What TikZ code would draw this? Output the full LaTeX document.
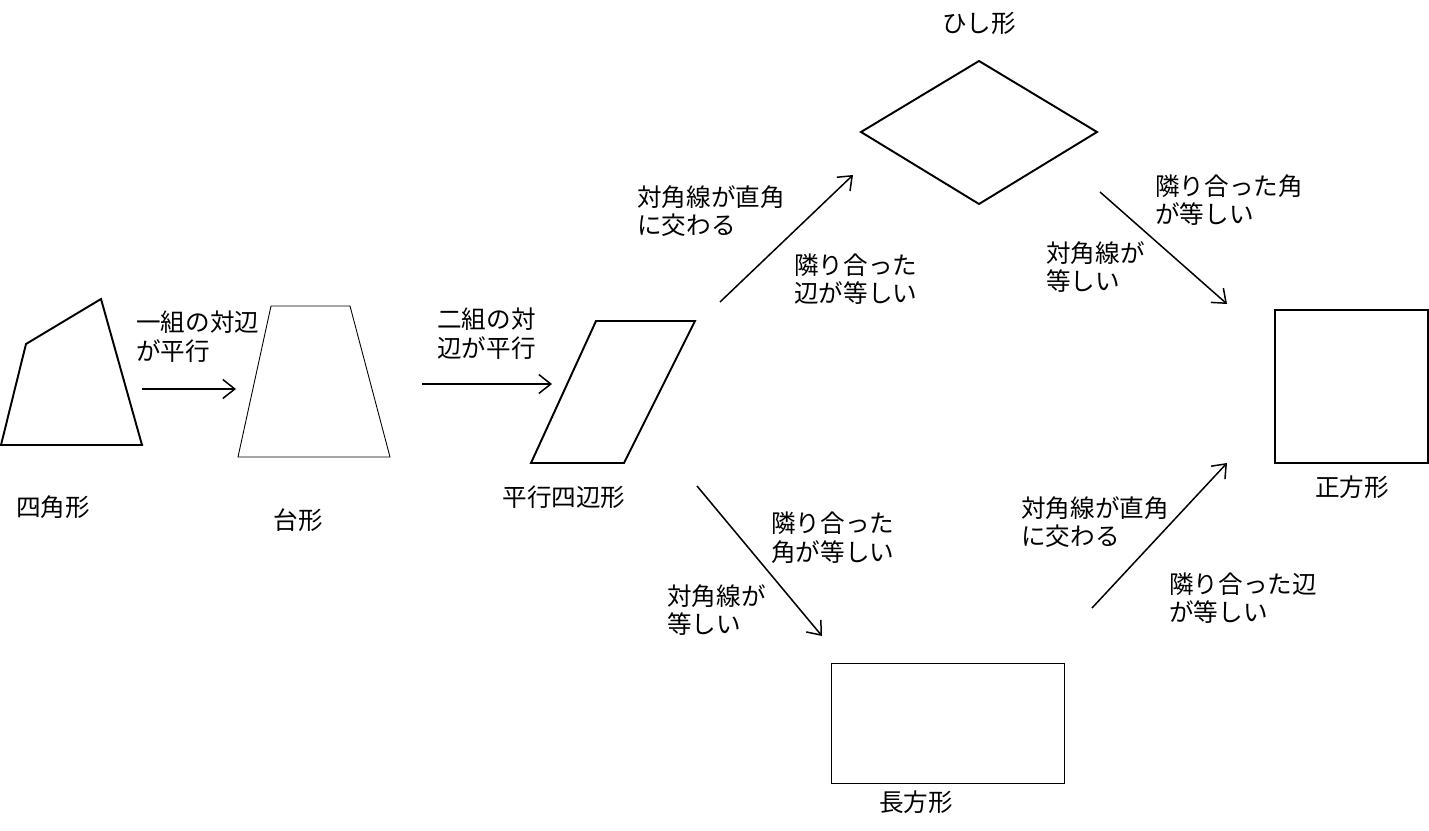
\documentclass[tikz,border=0pt]{standalone}
\usepackage{fontspec}
\setmainfont{Noto Sans CJK JP}
\usetikzlibrary{arrows.meta}
\tikzset{
	fig/.style={draw=black,line width=1.1pt},
	thinfig/.style={draw=black,line width=0.5pt},
	lbl/.style={inner sep=0pt,align=left,anchor=west,font=\fontsize{14}{16.3}\selectfont},
	title/.style={inner sep=0pt,font=\fontsize{14}{16.3}\selectfont},
	arr/.style={draw=black,line width=0.85pt,-{Straight Barb[length=2.4mm,width=3.8mm]}},
}

\begin{document}
\begin{tikzpicture}[x=0.02cm,y=-0.02cm]
	\useasboundingbox (0,0) rectangle (1429,831);
	% shapes
	\draw[fig] (1,445) -- (26,344) -- (101,299) -- (142,445) -- cycle;
	\draw[thinfig] (238,457) -- (271,306) -- (350,306) -- (390,457) -- cycle;
	\draw[fig] (531,463) -- (596,321) -- (695,321) -- (624,463) -- cycle;
	\draw[fig] (861,132) -- (979,61) -- (1097,132) -- (979,204) -- cycle;
	\draw[fig] (1275,310) rectangle (1428,463);
	\draw[thinfig] (831,663) rectangle (1064,783);
	% names
	\node[title] (quad) at (53,507) {四角形};
	\node[title] (trap) at (298,520) {台形};
	\node[title] (para) at (564,497) {平行四辺形};
	\node[title] (rhom) at (979,23) {ひし形};
	\node[title] (sqr) at (1352,487) {正方形};
	\node[title] (rect) at (916,802) {長方形};
	% arrow ends
	\coordinate (a1s) at (142,389); \coordinate (a1e) at (236,389);
	\coordinate (a2s) at (422,384); \coordinate (a2e) at (552,384);
	\coordinate (a3s) at (720,302); \coordinate (a3e) at (853,175);
	\coordinate (a4s) at (697,486); \coordinate (a4e) at (822,636);
	\coordinate (a5s) at (1100,192); \coordinate (a5e) at (1227,304);
	\coordinate (a6s) at (1092,608); \coordinate (a6e) at (1227,463);
	\draw[arr] (a1s) -- (a1e);
	\draw[arr] (a2s) -- (a2e);
	\draw[arr] (a3s) -- (a3e);
	\draw[arr] (a4s) -- (a4e);
	\draw[arr] (a5s) -- (a5e);
	\draw[arr] (a6s) -- (a6e);
	% conditions
	\node[lbl] (c1) at (136,337) {一組の対辺\\が平行};
	\node[lbl] (c2) at (437,334) {二組の対\\辺が平行};
	\node[lbl] (c3) at (637,211) {対角線が直角\\に交わる};
	\node[lbl] (c4) at (794,279) {隣り合った\\辺が等しい};
	\node[lbl] (c5) at (771,538) {隣り合った\\角が等しい};
	\node[lbl] (c6) at (667,610) {対角線が\\等しい};
	\node[lbl] (c7) at (1155,200) {隣り合った角\\が等しい};
	\node[lbl] (c8) at (1046,267) {対角線が\\等しい};
	\node[lbl] (c9) at (1021,522) {対角線が直角\\に交わる};
	\node[lbl] (c10) at (1169,598) {隣り合った辺\\が等しい};
\end{tikzpicture}
\end{document}
